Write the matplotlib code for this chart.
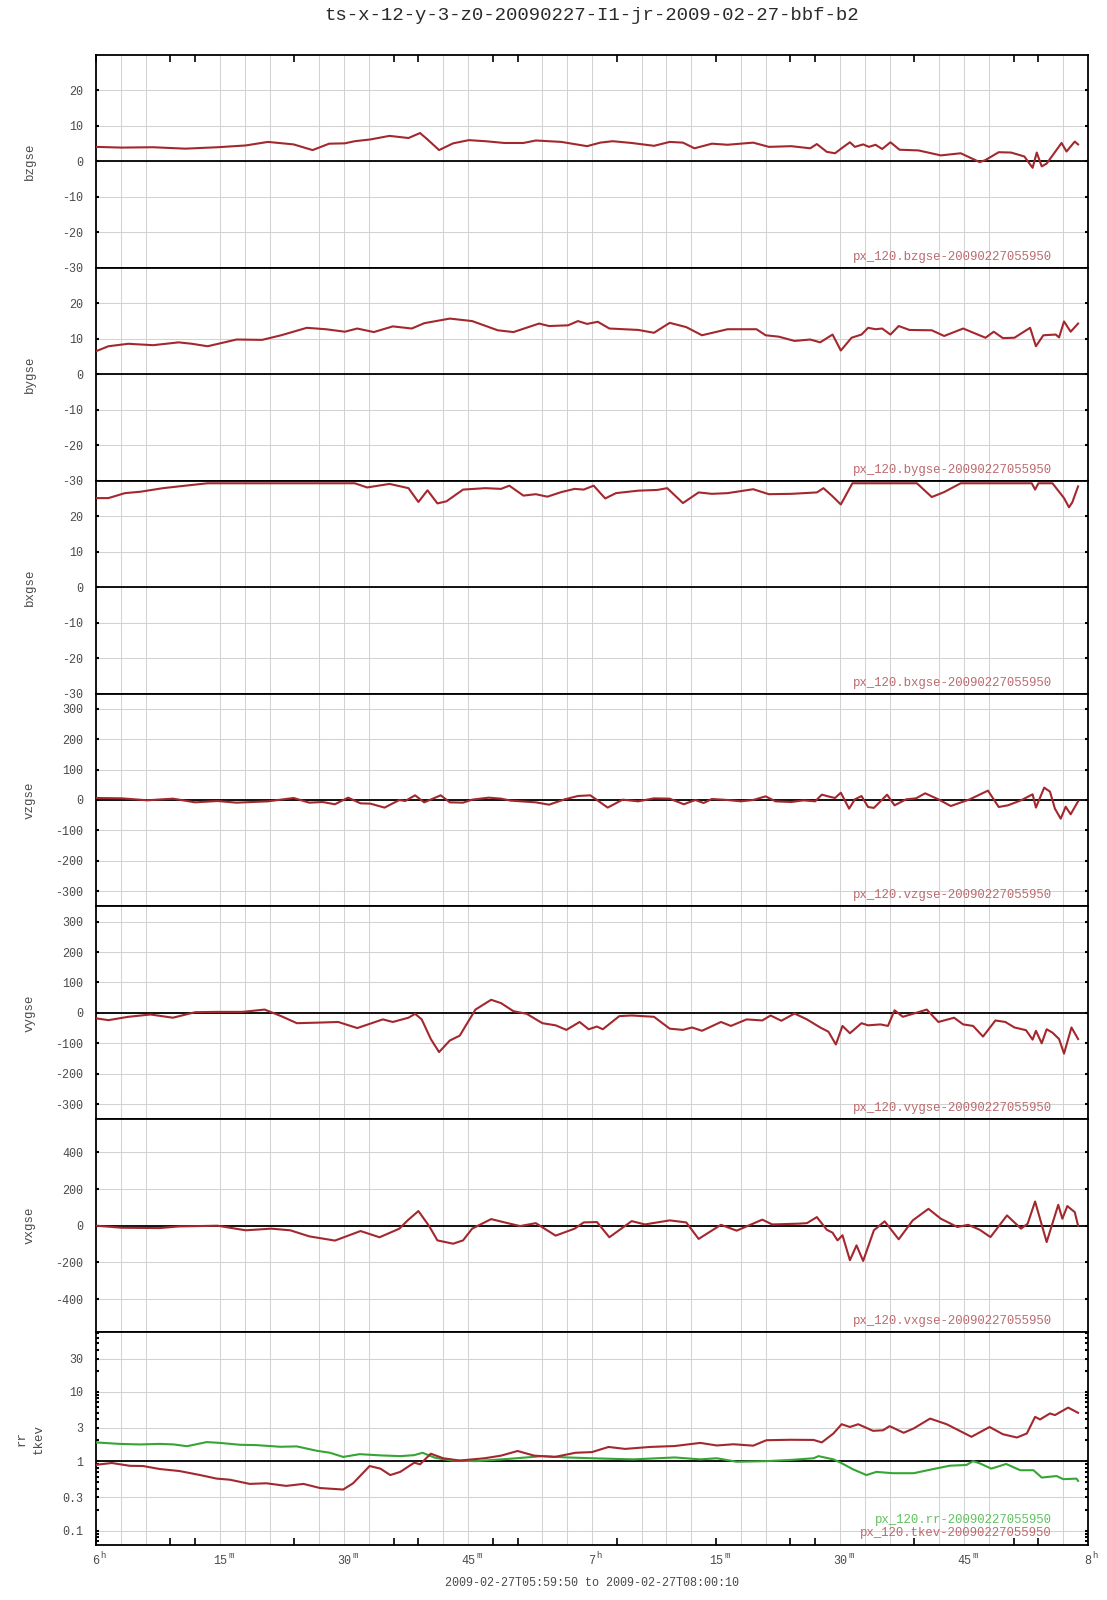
import numpy as np
import matplotlib
matplotlib.use("Agg")
import matplotlib.pyplot as plt
from matplotlib.transforms import blended_transform_factory, offset_copy
from matplotlib.ticker import FixedLocator, LogLocator, NullFormatter

MONO = "Liberation Mono"

title = "ts-x-12-y-3-z0-20090227-I1-jr-2009-02-27-bbf-b2"
span_text = "2009-02-27T05:59:50 to 2009-02-27T08:00:10"
stamp = "20090227055950"

# minutes after 06:00
bz_t = [0.0, 3.1, 6.9, 10.8, 14.7, 18.1, 20.8, 23.9, 26.2, 28.2, 30.1, 31.3, 33.2, 35.5, 37.8,
        39.2, 40.1, 41.5, 43.2, 45.1, 47.1, 49.4, 51.7, 53.2, 56.3, 59.4, 61.0, 62.5, 64.8, 67.5,
        69.4, 71.0, 72.4, 74.5, 76.4, 79.5, 81.4, 84.1, 86.4, 87.2, 88.4, 89.4, 90.3, 91.2, 91.8,
        92.8, 93.5, 94.3, 95.1, 96.1, 97.2, 99.5, 102.2, 104.6, 106.9, 107.6, 109.2, 110.7, 112.3,
        113.3, 113.8, 114.4, 115.0, 115.9, 116.8, 117.4, 118.4, 118.8]
bz_v = [4.1, 3.9, 4.0, 3.6, 4.0, 4.5, 5.5, 4.8, 3.2, 5.0, 5.1, 5.7, 6.2, 7.2, 6.6,
        8.0, 6.2, 3.2, 5.1, 6.0, 5.7, 5.2, 5.2, 5.9, 5.5, 4.3, 5.3, 5.7, 5.2, 4.4,
        5.5, 5.3, 3.7, 5.0, 4.7, 5.3, 4.1, 4.3, 3.7, 4.9, 2.7, 2.3, 3.9, 5.4, 4.1,
        4.8, 4.1, 4.7, 3.5, 5.4, 3.3, 3.1, 1.7, 2.3, -0.2, 0.4, 2.6, 2.5, 1.4,
        -1.8, 2.5, -1.4, -0.6, 2.3, 5.2, 2.8, 5.6, 4.8]

by_t = [0.0, 1.5, 3.9, 6.9, 10.0, 11.6, 13.5, 17.0, 20.1, 22.4, 25.5, 27.8, 30.1, 31.6, 33.6,
        35.9, 38.2, 39.7, 42.8, 45.5, 48.6, 50.5, 53.6, 54.8, 57.1, 58.3, 59.4, 60.7, 62.1, 65.6,
        67.5, 69.4, 71.4, 73.3, 76.4, 79.9, 81.0, 82.6, 84.5, 86.4, 87.6, 89.1, 90.1, 91.4, 92.6,
        93.4, 94.3, 95.1, 96.1, 97.1, 98.4, 101.1, 102.6, 104.9, 107.6, 108.6, 109.7, 111.1, 113.0,
        113.7, 114.6, 116.1, 116.5, 117.1, 117.9, 118.8]
by_v = [6.5, 7.9, 8.6, 8.2, 9.0, 8.6, 7.9, 9.8, 9.7, 11.0, 13.1, 12.7, 12.0, 12.9, 11.9,
        13.5, 12.9, 14.4, 15.7, 15.0, 12.4, 11.9, 14.3, 13.6, 13.8, 15.0, 14.2, 14.8, 12.9, 12.5,
        11.7, 14.5, 13.3, 11.0, 12.7, 12.7, 11.0, 10.6, 9.4, 9.8, 9.0, 11.2, 6.7, 10.3, 11.2,
        13.1, 12.7, 12.9, 11.2, 13.6, 12.5, 12.4, 10.8, 12.9, 10.3, 12.0, 10.2, 10.3, 13.1,
        7.9, 11.0, 11.2, 10.4, 14.9, 12.0, 14.3]

bx_t = [0.0, 1.5, 3.5, 5.4, 8.1, 10.8, 13.5, 15.5, 20.0, 25.0, 30.0, 31.3, 32.8, 35.5, 37.8,
        39.0, 40.1, 41.3, 42.4, 44.4, 47.1, 49.0, 50.0, 51.7, 53.2, 54.6, 56.3, 57.9, 59.0, 60.2,
        61.6, 62.9, 65.6, 67.9, 69.1, 71.0, 72.9, 74.5, 76.4, 79.5, 81.4, 84.1, 87.2, 88.0, 89.1,
        90.1, 91.5, 93.0, 97.0, 99.3, 101.1, 102.6, 104.6, 106.0, 110.0, 113.2, 113.6, 114.0,
        115.7, 117.1, 117.7, 118.1, 118.8]
bx_v = [25.1, 25.1, 26.5, 26.9, 27.9, 28.6, 30.0, 32.0, 33.0, 32.0, 30.5, 30.0, 28.1, 29.1, 27.9,
        24.0, 27.3, 23.6, 24.2, 27.5, 27.9, 27.7, 28.6, 25.8, 26.2, 25.5, 26.8, 27.7, 27.5, 28.6,
        25.0, 26.5, 27.2, 27.4, 27.9, 23.7, 26.7, 26.3, 26.5, 27.6, 26.2, 26.3, 26.7, 27.9, 25.6,
        23.3, 30.0, 32.0, 32.0, 30.0, 25.4, 26.8, 30.0, 32.0, 32.0, 30.0, 27.5, 30.0,
        30.0, 25.1, 22.5, 23.9, 28.4]

vz_t = [0.0, 3.1, 6.2, 9.3, 12.0, 14.7, 17.0, 20.8, 23.9, 25.8, 27.4, 28.9, 30.5, 32.0, 33.2,
        34.9, 36.7, 37.4, 38.6, 39.7, 41.7, 42.8, 44.4, 45.5, 47.5, 49.0, 50.2, 53.2, 54.8, 56.7,
        58.3, 59.8, 60.6, 61.9, 63.7, 65.6, 67.5, 69.4, 71.1, 72.5, 73.5, 74.5, 76.4, 78.0, 79.5,
        81.0, 82.2, 84.1, 85.6, 87.0, 87.8, 88.7, 89.4, 90.1, 91.1, 91.8, 92.6, 93.4, 94.1, 95.7,
        96.6, 98.0, 99.2, 100.3, 101.9, 103.4, 105.7, 107.9, 109.2, 110.3, 111.9, 113.3, 113.7,
        114.7, 115.4, 116.0, 116.7, 117.3, 117.9, 118.8]
vz_v = [6.6, 5.5, -1, 4.4, -7.7, -3.3, -8.8, -4.4, 6.6, -8.8, -6.6, -14, 7.7, -11, -12,
        -25, 0, -3.3, 15.4, -7.7, 15.4, -7.7, -8.8, 1.1, 7.7, 4.4, -2.2, -7.7, -15.4, 2.2,
        13.2, 15.4, 0, -25, 1.1, -4.4, 5.5, 4.4, -14, 0, -9.9, 3.3, 0, -4.4, 0,
        12, -4.4, -6.6, -1.1, -4.4, 17.6, 11, 6.6, 24, -28.6, 2.2, 13, -23, -26, 17.6,
        -17.6, 2.2, 5.5, 22, 2.2, -19.8, 2.2, 30.8, -23, -17.6, -1.1, 18.7, -25,
        40.7, 27.5, -28.6, -61.5, -22, -47, -4.4]

vy_t = [0.0, 1.5, 3.9, 6.6, 9.3, 12.0, 14.7, 17.7, 20.4, 22.4, 24.3, 27.0, 29.3, 31.6, 34.7,
        35.9, 37.8, 38.6, 39.4, 40.5, 41.5, 42.8, 44.0, 45.9, 47.8, 49.0, 50.5, 52.1, 54.0, 55.6,
        56.9, 58.5, 59.6, 60.6, 61.3, 63.3, 64.8, 67.5, 69.4, 71.0, 72.1, 73.3, 75.6, 76.8, 78.7,
        80.6, 81.6, 82.9, 84.5, 86.0, 87.6, 88.6, 89.5, 90.3, 91.2, 92.6, 93.4, 94.9, 95.8, 96.6,
        97.6, 99.2, 100.5, 101.9, 103.8, 104.9, 106.1, 107.3, 108.8, 110.0, 111.1, 112.5, 113.3,
        113.7, 114.4, 115.0, 115.7, 116.5, 117.1, 118.0, 118.8]
vy_v = [-18, -24, -13, -5.4, -16, 2.2, 3.2, 3.2, 10.8, -10.8, -34, -32, -30, -50, -21.5,
        -30, -16, -3.2, -21.5, -86, -129, -91, -75, 10.8, 43, 32, 5.4, -3.2, -34, -41,
        -56, -30, -54, -45, -54, -10.8, -8.6, -13, -52, -56, -48, -59, -30, -43, -21.5,
        -25, -8.6, -26, -2.2, -21.5, -48, -62, -104, -43, -67, -34, -41, -38, -43, 8.6,
        -13, 0, 10.8, -30, -16, -38, -43, -78, -25, -30, -48, -57, -88,
        -59, -100, -54, -65, -86, -134, -48, -86]

vx_t = [0.0, 3.1, 7.7, 10.0, 14.7, 18.1, 21.2, 23.5, 25.8, 28.9, 32.0, 34.3, 36.7, 37.7, 39.0,
        40.3, 41.3, 43.2, 44.4, 45.5, 47.8, 49.8, 51.3, 53.2, 55.6, 57.9, 59.0, 60.6, 62.1, 64.8,
        66.4, 69.4, 71.4, 72.9, 75.6, 77.5, 80.6, 81.8, 84.9, 86.0, 87.2, 88.4, 89.1, 89.7, 90.3,
        91.2, 92.0, 92.8, 94.1, 95.4, 97.1, 98.8, 100.7, 102.2, 104.2, 105.5, 106.9, 108.2, 110.2,
        111.9, 112.7, 113.6, 115.0, 116.4, 116.9, 117.5, 118.4, 118.8]
vx_v = [0, -11, -13, -4, 0, -25, -16, -25, -58, -81, -29, -63, -16, 29, 80,
        -2, -80, -98, -80, -16, 36, 14, -2, 14, -54, -16, 18, 20, -63, 25,
        7, 29, 18, -72, 5, -27, 33, 7, 11, 14, 47, -22, -38, -80, -52,
        -188, -107, -192, -25, 24, -74, 29, 92, 38, -7, 5, -22, -62, 56,
        -16, 11, 132, -89, 114, 38, 107, 74, 0]

rr_t = [0.0, 2.9, 5.3, 7.7, 9.4, 11.0, 13.4, 15.0, 17.4, 19.4, 22.3, 24.3, 26.7, 28.3, 29.9,
        31.9, 34.4, 36.8, 38.5, 39.5, 41.0, 43.0, 46.0, 50.0, 54.0, 57.0, 60.0, 65.0, 70.0, 73.1,
        75.1, 77.5, 81.1, 84.0, 86.8, 87.4, 89.2, 90.0, 91.6, 93.2, 94.4, 96.4, 98.9, 101.3, 103.3,
        105.3, 106.1, 106.9, 108.3, 110.1, 111.8, 113.4, 114.4, 116.2, 117.0, 118.6, 118.8]
rr_v = [1.86, 1.77, 1.74, 1.77, 1.74, 1.64, 1.88, 1.83, 1.72, 1.70, 1.61, 1.63, 1.41, 1.32, 1.15,
        1.26, 1.21, 1.18, 1.22, 1.32, 1.12, 1.02, 1.00, 1.08, 1.18, 1.13, 1.10, 1.06, 1.13, 1.06,
        1.10, 0.98, 1.00, 1.04, 1.10, 1.18, 1.06, 0.96, 0.76, 0.63, 0.70, 0.67, 0.67, 0.77, 0.86,
        0.88, 1.00, 0.93, 0.78, 0.91, 0.74, 0.74, 0.58, 0.61, 0.55, 0.56, 0.52]

tk_t = [0.0, 1.9, 4.1, 5.7, 7.7, 10.1, 12.6, 14.6, 16.2, 18.6, 20.6, 23.0, 25.1, 27.1, 29.9,
        31.1, 33.1, 34.4, 35.6, 36.8, 38.5, 39.2, 40.5, 42.0, 44.0, 47.0, 49.0, 51.0, 53.0, 55.5,
        58.0, 60.0, 62.0, 64.0, 67.0, 70.0, 73.1, 75.1, 77.1, 79.5, 81.1, 84.0, 86.8, 87.8, 89.2,
        90.2, 91.2, 92.2, 94.0, 95.2, 96.0, 97.7, 98.9, 100.9, 102.9, 105.9, 108.1, 109.7, 111.4,
        112.6, 113.6, 114.2, 115.4, 116.0, 117.6, 118.8]
tk_v = [0.885, 0.94, 0.856, 0.85, 0.77, 0.72, 0.63, 0.56, 0.54, 0.47, 0.48, 0.44, 0.47, 0.41, 0.39,
        0.48, 0.85, 0.78, 0.63, 0.70, 0.95, 0.90, 1.28, 1.10, 1.02, 1.10, 1.20, 1.40, 1.20, 1.15,
        1.32, 1.35, 1.60, 1.50, 1.60, 1.65, 1.83, 1.68, 1.75, 1.67, 2.00, 2.03, 2.02, 1.86, 2.5,
        3.4, 3.1, 3.4, 2.73, 2.78, 3.19, 2.56, 2.95, 4.1, 3.4, 2.24, 3.1, 2.44, 2.19,
        2.5, 4.34, 3.98, 4.86, 4.6, 5.9, 4.96]

x_major = [0, 9, 12, 24, 36, 39, 48, 51, 63, 75, 84, 87, 99, 111, 114]
x_labels = [0, 15, 30, 45, 60, 75, 90, 105, 120]

RED = "#a3282e"
GREEN = "#35a535"
RED_TXT = "#bb6a6e"
GREEN_TXT = "#60c060"
GRID = "#d2d2d2"
TXT = "#4a4a4a"

W, H = 1107, 1600
fig = plt.figure(figsize=(W / 100, H / 100), dpi=100)
fig.patch.set_facecolor("white")

top_px, bot_px = 55, 1545
ph = (bot_px - top_px) / 7.0
left = 96 / W
width = 992 / W

panels = [
    ("bzgse", bz_t, bz_v, (-30, 30), [-30, -20, -10, 0, 10, 20]),
    ("bygse", by_t, by_v, (-30, 30), [-30, -20, -10, 0, 10, 20]),
    ("bxgse", bx_t, bx_v, (-30, 30), [-30, -20, -10, 0, 10, 20]),
    ("vzgse", vz_t, vz_v, (-350, 350), [-300, -200, -100, 0, 100, 200, 300]),
    ("vygse", vy_t, vy_v, (-350, 350), [-300, -200, -100, 0, 100, 200, 300]),
    ("vxgse", vx_t, vx_v, (-580, 580), [-400, -200, 0, 200, 400]),
]


def style_axes(ax, first, last):
    ax.set_xlim(0, 120)
    ax.set_facecolor("white")
    ax.xaxis.set_major_locator(FixedLocator(x_major))
    ax.xaxis.set_minor_locator(FixedLocator(np.arange(0, 121, 3)))
    ax.xaxis.set_major_formatter(NullFormatter())
    ax.grid(True, which="minor", axis="x", color=GRID, lw=0.75, snap=True)
    ax.grid(True, which="major", axis="y", color=GRID, lw=0.75, snap=True)
    ax.set_axisbelow(True)
    ax.tick_params(axis="x", which="major", direction="in", length=5, width=1.2,
                   top=first, bottom=last, color="k")
    ax.tick_params(axis="x", which="minor", length=0)
    ax.tick_params(axis="y", which="both", direction="in", length=2.5, width=1.5,
                   left=True, right=True, labelsize=8.5, labelcolor=TXT, pad=9)
    for lab in ax.get_yticklabels():
        lab.set_family(MONO)
    for s in ax.spines.values():
        s.set_color("k")
        s.set_linewidth(1.3)


axes = []
for i, (name, t, v, ylim, ticks) in enumerate(panels):
    y0 = top_px + ph * (i + 1)
    ax = fig.add_axes([left, 1 - y0 / H, width, ph / H])
    # values past the range run along the panel edge, as in the original plotter
    edge = 0.012 * (ylim[1] - ylim[0])
    vals = np.clip(np.array(v, dtype=float), ylim[0] + edge, ylim[1] - edge)
    ax.set_ylim(*ylim)
    ax.set_yticks(ticks)
    ax.set_yticklabels([str(k) for k in ticks])
    style_axes(ax, i == 0, False)
    ax.axhline(0, color="k", lw=1.3, zorder=2)
    ax.plot(t, vals, color=RED, lw=1.5, zorder=3, solid_joinstyle="round")
    ax.text(0.9637, 0.052, "px_120.%s-%s" % (name, stamp), transform=ax.transAxes,
            ha="right", va="center", fontsize=8.9, family=MONO, color=RED_TXT)
    fig.text(30 / W, 1 - (y0 - ph / 2) / H, name, rotation=90, ha="center", va="center",
             fontsize=9, family=MONO, color=TXT)
    axes.append(ax)

# log panel
y0 = bot_px
ax = fig.add_axes([left, 1 - y0 / H, width, ph / H])
ax.set_yscale("log")
ax.set_ylim(0.062, 72)
log_ticks = [0.1, 0.3, 1, 3, 10, 30]
ax.yaxis.set_major_locator(FixedLocator(log_ticks))
ax.yaxis.set_minor_locator(LogLocator(base=10, subs=np.arange(2, 10)))
ax.yaxis.set_minor_formatter(NullFormatter())
ax.set_yticklabels(["0.1", "0.3", "1", "3", "10", "30"])
style_axes(ax, False, True)
ax.tick_params(axis="y", which="minor", length=2, width=1.5)
ax.axhline(1, color="k", lw=1.3, zorder=2)
ax.plot(rr_t, rr_v, color=GREEN, lw=1.5, zorder=3, solid_joinstyle="round")
ax.plot(tk_t, tk_v, color=RED, lw=1.5, zorder=3, solid_joinstyle="round")
ax.text(0.9637, 0.117, "px_120.rr-%s" % stamp, transform=ax.transAxes,
        ha="right", va="center", fontsize=8.9, family=MONO, color=GREEN_TXT)
ax.text(0.9637, 0.056, "px_120.tkev-%s" % stamp, transform=ax.transAxes,
        ha="right", va="center", fontsize=8.9, family=MONO, color=RED_TXT)
fig.text(30 / W, 1 - (y0 - ph / 2) / H, "rr\ntkev", rotation=90, ha="center", va="center",
         fontsize=9, family=MONO, color=TXT, linespacing=1.6)

# time labels with superscript units
base = blended_transform_factory(ax.transData, ax.transAxes)
for m in x_labels:
    if m % 60 == 0:
        num, unit = str(6 + m // 60), "h"
    else:
        num, unit = str(m % 60), "m"
    tr = offset_copy(base, fig=fig, x=0, y=-16, units="dots")
    ax.text(m, 0, num, transform=tr, ha="center", va="center", fontsize=8.5,
            family=MONO, color=TXT)
    half = len(num) * 0.6 * 8.5 * 100 / 72 / 2
    tr2 = offset_copy(base, fig=fig, x=half + 1, y=-11, units="dots")
    ax.text(m, 0, unit, transform=tr2, ha="left", va="center", fontsize=6.5,
            family=MONO, color=TXT)

fig.text(592 / W, 1 - 1583 / H, span_text, ha="center", va="center", fontsize=8.5,
         family=MONO, color=TXT)
fig.text(592 / W, 1 - 15 / H, title, ha="center", va="center", fontsize=13.7,
         family=MONO, color="#2a2a2a")

fig.savefig("out.png", dpi=100)
